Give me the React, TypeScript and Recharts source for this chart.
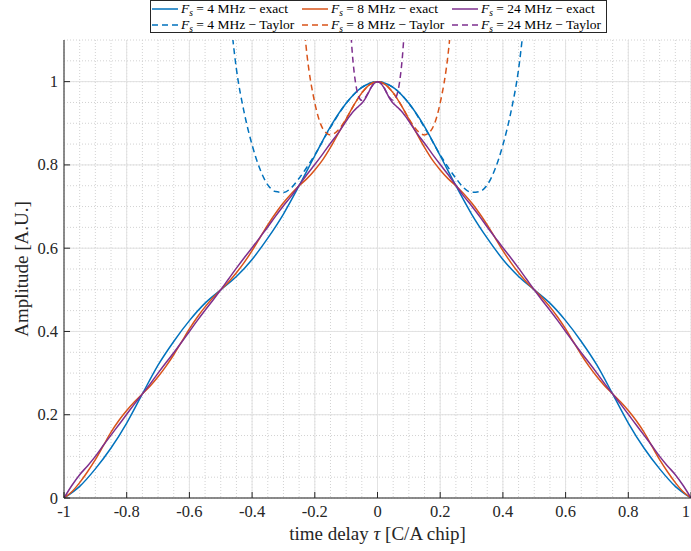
import React from 'react';
import { LineChart, Line, XAxis, YAxis, CartesianGrid, Legend } from 'recharts';

const FONT = '"Liberation Serif", "Times New Roman", serif';
const INK = '#262626';
const BLUE = '#0072BD';
const ORANGE = '#D95319';
const PURPLE = '#7E2F8E';

// ---- ticks ----
const xTicks = [-1, -0.8, -0.6, -0.4, -0.2, 0, 0.2, 0.4, 0.6, 0.8, 1];
const xTickLabels = ['-1', '-0.8', '-0.6', '-0.4', '-0.2', '0', '0.2', '0.4', '0.6', '0.8', '1'];
const yTicks = [0, 0.2, 0.4, 0.6, 0.8, 1];
const yTickLabels = ['0', '0.2', '0.4', '0.6', '0.8', '1'];
const xMinor = [-1, -0.95, -0.9, -0.85, -0.8, -0.75, -0.7, -0.65, -0.6, -0.55, -0.5, -0.45, -0.4, -0.35, -0.3, -0.25, -0.2, -0.15, -0.1, -0.05, 0, 0.05, 0.1, 0.15, 0.2, 0.25, 0.3, 0.35, 0.4, 0.45, 0.5, 0.55, 0.6, 0.65, 0.7, 0.75, 0.8, 0.85, 0.9, 0.95, 1];
const yMinor = [0, 0.05, 0.1, 0.15, 0.2, 0.25, 0.3, 0.35, 0.4, 0.45, 0.5, 0.55, 0.6, 0.65, 0.7, 0.75, 0.8, 0.85, 0.9, 0.95, 1, 1.05, 1.1];

// ---- Fs = 4 MHz exact ----
const blueExactX = [-1, -0.95, -0.9, -0.85, -0.8, -0.75, -0.7, -0.65, -0.6, -0.55, -0.5, -0.45, -0.4, -0.35, -0.3, -0.25, -0.2, -0.15, -0.1, -0.05, 0, 0.05, 0.1, 0.15, 0.2, 0.25, 0.3, 0.35, 0.4, 0.45, 0.5, 0.55, 0.6, 0.65, 0.7, 0.75, 0.8, 0.85, 0.9, 0.95, 1];
const blueExactY = [0, 0.028, 0.07, 0.12, 0.18, 0.25, 0.319, 0.376, 0.426, 0.468, 0.5, 0.532, 0.573, 0.624, 0.682, 0.75, 0.822, 0.892, 0.948, 0.986, 1.0, 0.986, 0.948, 0.892, 0.822, 0.75, 0.682, 0.624, 0.573, 0.532, 0.5, 0.468, 0.426, 0.376, 0.319, 0.25, 0.18, 0.12, 0.07, 0.028, 0];

// ---- Fs = 8 MHz exact ----
const orangeExactX = [-1, -0.975, -0.95, -0.925, -0.9, -0.875, -0.85, -0.825, -0.8, -0.775, -0.75, -0.725, -0.7, -0.675, -0.65, -0.625, -0.6, -0.575, -0.55, -0.525, -0.5, -0.475, -0.45, -0.425, -0.4, -0.375, -0.35, -0.325, -0.3, -0.275, -0.25, -0.225, -0.2, -0.175, -0.15, -0.125, -0.1, -0.075, -0.05, -0.025, 0, 0.025, 0.05, 0.075, 0.1, 0.125, 0.15, 0.175, 0.2, 0.225, 0.25, 0.275, 0.3, 0.325, 0.35, 0.375, 0.4, 0.425, 0.45, 0.475, 0.5, 0.525, 0.55, 0.575, 0.6, 0.625, 0.65, 0.675, 0.7, 0.725, 0.75, 0.775, 0.8, 0.825, 0.85, 0.875, 0.9, 0.925, 0.95, 0.975, 1];
const orangeExactY = [0, 0.015, 0.037, 0.063, 0.092, 0.125, 0.158, 0.186, 0.21, 0.231, 0.25, 0.269, 0.291, 0.316, 0.344, 0.375, 0.406, 0.434, 0.459, 0.481, 0.5, 0.519, 0.541, 0.566, 0.594, 0.625, 0.656, 0.684, 0.709, 0.731, 0.75, 0.767, 0.788, 0.812, 0.842, 0.876, 0.91, 0.944, 0.973, 0.993, 1.0, 0.993, 0.973, 0.944, 0.91, 0.876, 0.842, 0.812, 0.788, 0.767, 0.75, 0.731, 0.709, 0.684, 0.656, 0.625, 0.594, 0.566, 0.541, 0.519, 0.5, 0.481, 0.459, 0.434, 0.406, 0.375, 0.344, 0.316, 0.291, 0.269, 0.25, 0.231, 0.21, 0.186, 0.158, 0.125, 0.092, 0.063, 0.037, 0.015, 0];

// ---- Fs = 24 MHz exact ----
const purpleExactX = [-1, -0.975, -0.95, -0.925, -0.9, -0.875, -0.85, -0.825, -0.8, -0.775, -0.75, -0.725, -0.7, -0.675, -0.65, -0.625, -0.6, -0.575, -0.55, -0.525, -0.5, -0.475, -0.45, -0.425, -0.4, -0.375, -0.35, -0.325, -0.3, -0.275, -0.25, -0.225, -0.2, -0.175, -0.15, -0.125, -0.1, -0.09, -0.08, -0.07, -0.06, -0.05, -0.04, -0.03, -0.02, -0.01, 0, 0.01, 0.02, 0.03, 0.04, 0.05, 0.06, 0.07, 0.08, 0.09, 0.1, 0.125, 0.15, 0.175, 0.2, 0.225, 0.25, 0.275, 0.3, 0.325, 0.35, 0.375, 0.4, 0.425, 0.45, 0.475, 0.5, 0.525, 0.55, 0.575, 0.6, 0.625, 0.65, 0.675, 0.7, 0.725, 0.75, 0.775, 0.8, 0.825, 0.85, 0.875, 0.9, 0.925, 0.95, 0.975, 1];
const purpleExactY = [0, 0.03, 0.056, 0.077, 0.1, 0.126, 0.151, 0.176, 0.201, 0.226, 0.25, 0.274, 0.3, 0.325, 0.349, 0.374, 0.4, 0.426, 0.451, 0.475, 0.5, 0.526, 0.552, 0.577, 0.601, 0.626, 0.651, 0.677, 0.702, 0.725, 0.751, 0.777, 0.801, 0.826, 0.852, 0.877, 0.905, 0.916, 0.926, 0.934, 0.941, 0.948, 0.958, 0.972, 0.986, 0.996, 1.0, 0.996, 0.986, 0.972, 0.958, 0.948, 0.941, 0.934, 0.926, 0.916, 0.905, 0.877, 0.852, 0.826, 0.801, 0.777, 0.751, 0.725, 0.702, 0.677, 0.651, 0.626, 0.601, 0.577, 0.552, 0.526, 0.5, 0.475, 0.451, 0.426, 0.4, 0.374, 0.349, 0.325, 0.3, 0.274, 0.25, 0.226, 0.201, 0.176, 0.151, 0.126, 0.1, 0.077, 0.056, 0.03, 0];

// ---- Taylor approximations ----
const blueTaylorX = [-0.475, -0.45, -0.425, -0.4, -0.375, -0.35, -0.325, -0.3, -0.275, -0.25, -0.2, -0.15, -0.1, -0.05, 0, 0.05, 0.1, 0.15, 0.2, 0.25, 0.275, 0.3, 0.325, 0.35, 0.375, 0.4, 0.425, 0.45, 0.475];
const blueTaylorY = [1.2, 1.03, 0.925, 0.848, 0.79, 0.752, 0.736, 0.734, 0.745, 0.768, 0.824, 0.89, 0.948, 0.986, 1.0, 0.986, 0.948, 0.89, 0.824, 0.768, 0.745, 0.734, 0.736, 0.752, 0.79, 0.848, 0.925, 1.03, 1.2];
const orangeTaylorX = [-0.25, -0.225, -0.2, -0.175, -0.15, -0.125, -0.1, -0.075, -0.05, -0.025, 0, 0.025, 0.05, 0.075, 0.1, 0.125, 0.15, 0.175, 0.2, 0.225, 0.25];
const orangeTaylorY = [1.28, 1.065, 0.949, 0.888, 0.872, 0.884, 0.911, 0.944, 0.973, 0.993, 1.0, 0.993, 0.973, 0.944, 0.911, 0.884, 0.872, 0.888, 0.949, 1.065, 1.28];
const purpleTaylorX = [-0.09, -0.08, -0.07, -0.06, -0.05, -0.04, -0.03, -0.02, -0.01, 0, 0.01, 0.02, 0.03, 0.04, 0.05, 0.06, 0.07, 0.08, 0.09];
const purpleTaylorY = [1.18, 1.065, 0.997, 0.964, 0.955, 0.961, 0.973, 0.987, 0.9965, 1.0, 0.9965, 0.987, 0.973, 0.961, 0.955, 0.964, 0.997, 1.065, 1.18];

const zip = (xs: number[], ys: number[]) =>
  xs.slice(0, Math.min(xs.length, ys.length)).map((x, i) => ({ x, y: ys[i] }));

const series = [
  { key: 'b-exact', data: zip(blueExactX, blueExactY), color: BLUE, dashed: false },
  { key: 'b-taylor', data: zip(blueTaylorX, blueTaylorY), color: BLUE, dashed: true },
  { key: 'o-exact', data: zip(orangeExactX, orangeExactY), color: ORANGE, dashed: false },
  { key: 'o-taylor', data: zip(orangeTaylorX, orangeTaylorY), color: ORANGE, dashed: true },
  { key: 'p-exact', data: zip(purpleExactX, purpleExactY), color: PURPLE, dashed: false },
  { key: 'p-taylor', data: zip(purpleTaylorX, purpleTaylorY), color: PURPLE, dashed: true },
];

const legendEntries = [
  { fs: '4', kind: 'exact', color: BLUE, dashed: false },
  { fs: '8', kind: 'exact', color: ORANGE, dashed: false },
  { fs: '24', kind: 'exact', color: PURPLE, dashed: false },
  { fs: '4', kind: 'Taylor', color: BLUE, dashed: true },
  { fs: '8', kind: 'Taylor', color: ORANGE, dashed: true },
  { fs: '24', kind: 'Taylor', color: PURPLE, dashed: true },
];

const XTick = (props: any) => {
  const { x, y, payload } = props;
  const idx = xTicks.indexOf(payload.value);
  const label = idx >= 0 ? xTickLabels[idx] : String(payload.value);
  const isLast = idx === xTicks.length - 1;
  return (
    <g>
      <line x1={x} y1={y} x2={x} y2={y - 6} stroke={INK} strokeWidth={1} />
      <text
        x={isLast ? x - 1 : x}
        y={y + 19}
        textAnchor={isLast ? 'end' : 'middle'}
        fontSize={16.5}
        fontFamily={FONT}
        fill={INK}
      >
        {label}
      </text>
    </g>
  );
};

const YTick = (props: any) => {
  const { x, y, payload } = props;
  const idx = yTicks.indexOf(payload.value);
  const label = idx >= 0 ? yTickLabels[idx] : String(payload.value);
  return (
    <g>
      <line x1={x} y1={y} x2={x + 6} y2={y} stroke={INK} strokeWidth={1} />
      <text x={x - 6} y={y + 5.5} textAnchor="end" fontSize={16.5} fontFamily={FONT} fill={INK}>
        {label}
      </text>
    </g>
  );
};

const renderLegend = () => (
  <div
    style={{
      position: 'relative',
      width: 457,
      height: 33,
      boxSizing: 'border-box',
      border: `1px solid ${INK}`,
      background: '#fff',
      fontFamily: FONT,
      fontSize: 13.5,
      color: '#000',
    }}
  >
    {legendEntries.map((e, i) => {
      const col = i % 3;
      const row = Math.floor(i / 3);
      return (
        <div
          key={i}
          style={{
            position: 'absolute',
            left: 1 + col * 150,
            top: row * 16,
            height: 16,
            display: 'flex',
            alignItems: 'center',
            whiteSpace: 'nowrap',
            lineHeight: '16px',
          }}
        >
          <svg width={27} height={10} style={{ display: 'block' }}>
            <line
              x1={0}
              y1={5}
              x2={26}
              y2={5}
              stroke={e.color}
              strokeWidth={1.5}
              strokeDasharray={e.dashed ? '6 4' : undefined}
            />
          </svg>
          <span style={{ marginLeft: 2 }}>
            <i>F</i>
            <i style={{ fontSize: 9.5, position: 'relative', top: 3 }}>s</i>
            {` = ${e.fs} MHz \u2212 ${e.kind}`}
          </span>
        </div>
      );
    })}
  </div>
);

const XLabel = (props: any) => {
  const vb = props.viewBox || { x: 64, width: 627 };
  return (
    <text x={vb.x + vb.width / 2} y={540} textAnchor="middle" fontSize={19} fontFamily={FONT} fill={INK}>
      time delay <tspan fontStyle="italic">τ</tspan> [C/A chip]
    </text>
  );
};

const YLabel = (props: any) => {
  const vb = props.viewBox || { y: 40, height: 458 };
  const cy = vb.y + vb.height / 2;
  return (
    <text
      x={28}
      y={cy}
      transform={`rotate(-90, 28, ${cy})`}
      textAnchor="middle"
      fontSize={19}
      fontFamily={FONT}
      fill={INK}
    >
      Amplitude [A.U.]
    </text>
  );
};

export default function App() {
  return (
    <div style={{ position: 'absolute', left: 0, top: 0, width: 691, height: 551, background: '#fff' }}>
      <LineChart width={691} height={551} margin={{ top: 40, right: 0, bottom: 0, left: 0 }}>
        <CartesianGrid
          stroke="#d2d2d2"
          strokeDasharray="1 2"
          verticalValues={xMinor}
          horizontalValues={yMinor}
        />
        <CartesianGrid stroke="#e2e2e2" strokeWidth={1} verticalValues={xTicks} horizontalValues={yTicks} />
        <XAxis
          type="number"
          dataKey="x"
          domain={[-1, 1]}
          allowDataOverflow
          ticks={xTicks}
          interval={0}
          height={53}
          tickSize={0}
          tickMargin={0}
          tickLine={false}
          axisLine={{ stroke: INK, strokeWidth: 1 }}
          tick={<XTick />}
          label={XLabel}
        />
        <YAxis
          type="number"
          dataKey="y"
          domain={[0, 1.1]}
          allowDataOverflow
          ticks={yTicks}
          interval={0}
          width={64}
          tickSize={0}
          tickMargin={0}
          tickLine={false}
          axisLine={{ stroke: INK, strokeWidth: 1 }}
          tick={<YTick />}
          label={YLabel}
        />
        {series.map((s) => (
          <Line
            key={s.key}
            data={s.data}
            dataKey="y"
            type="monotone"
            stroke={s.color}
            strokeWidth={1.5}
            strokeDasharray={s.dashed ? '6 4' : undefined}
            dot={false}
            activeDot={false}
            isAnimationActive={false}
          />
        ))}
        <Legend
          layout="horizontal"
          verticalAlign="middle"
          align="center"
          content={renderLegend}
          wrapperStyle={{ left: 150, top: 0, width: 457, height: 33 }}
        />
      </LineChart>
    </div>
  );
}
